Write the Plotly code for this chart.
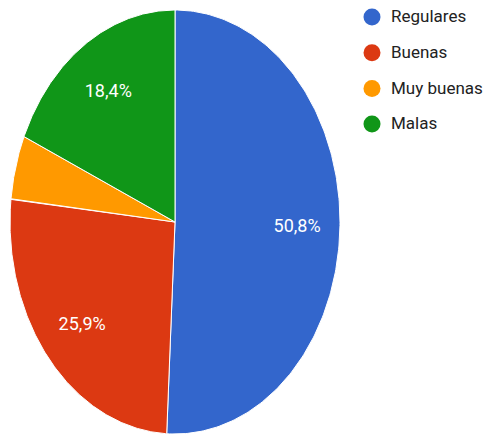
import numpy as np
import plotly.graph_objects as go

# Survey results (percent of responses)
categories = ["Regulares", "Buenas", "Muy buenas", "Malas"]
values = [50.8, 25.9, 4.9, 18.4]
colors = ["#3366cc", "#dc3912", "#ff9900", "#109618"]

W, H = 492, 436
cx, cy = 175, 222      # pie centre (pixel units)
rx, ry = 165, 212      # horizontal / vertical radii
label_r = 0.74         # label distance as a fraction of the radius
min_label_pct = 5.0    # slices smaller than this get no label

# Legend layout (pixel units)
leg_marker_x = 372
leg_text_x = 391
leg_top = 17
leg_step = 35.7

fig = go.Figure()

total = float(sum(values))
start = 0.0
label_x, label_y, label_t = [], [], []
for name, val, col in zip(categories, values, colors):
    frac0 = start / total
    frac1 = (start + val) / total
    ang = np.linspace(frac0, frac1, 200) * 2 * np.pi  # clockwise from 12 o'clock
    xs = np.concatenate([[cx], cx + rx * np.sin(ang), [cx]])
    ys = np.concatenate([[cy], cy - ry * np.cos(ang), [cy]])
    fig.add_trace(go.Scatter(
        x=xs, y=ys, mode="lines", fill="toself", fillcolor=col,
        line=dict(color="white", width=1), hoverinfo="skip",
        name=name, showlegend=False,
    ))
    if val >= min_label_pct:
        mid = (frac0 + frac1) / 2 * 2 * np.pi
        label_x.append(cx + label_r * rx * np.sin(mid))
        label_y.append(cy - label_r * ry * np.cos(mid) + 2)
        label_t.append(f"{val:.1f}".replace(".", ",") + "%")
    start += val

fig.add_trace(go.Scatter(
    x=label_x, y=label_y, text=label_t, mode="text",
    textfont=dict(color="white", size=18, family="Roboto, Arial"),
    hoverinfo="skip", showlegend=False,
))

# Legend: coloured dots with category names
leg_y = [leg_top + i * leg_step for i in range(len(categories))]
fig.add_trace(go.Scatter(
    x=[leg_marker_x] * len(categories), y=leg_y, mode="markers",
    marker=dict(symbol="circle", size=17, color=colors),
    hoverinfo="skip", showlegend=False,
))
fig.add_trace(go.Scatter(
    x=[leg_text_x] * len(categories), y=[y + 1 for y in leg_y],
    text=categories, mode="text", textposition="middle right",
    textfont=dict(size=17, color="#222222", family="Roboto, Arial"),
    hoverinfo="skip", showlegend=False,
))

fig.update_layout(
    width=W, height=H,
    margin=dict(l=0, r=0, t=0, b=0),
    paper_bgcolor="white", plot_bgcolor="white",
    xaxis=dict(range=[0, W], visible=False, fixedrange=True),
    yaxis=dict(range=[H, 0], visible=False, fixedrange=True),
    showlegend=False,
)

fig.write_html("out.html")
